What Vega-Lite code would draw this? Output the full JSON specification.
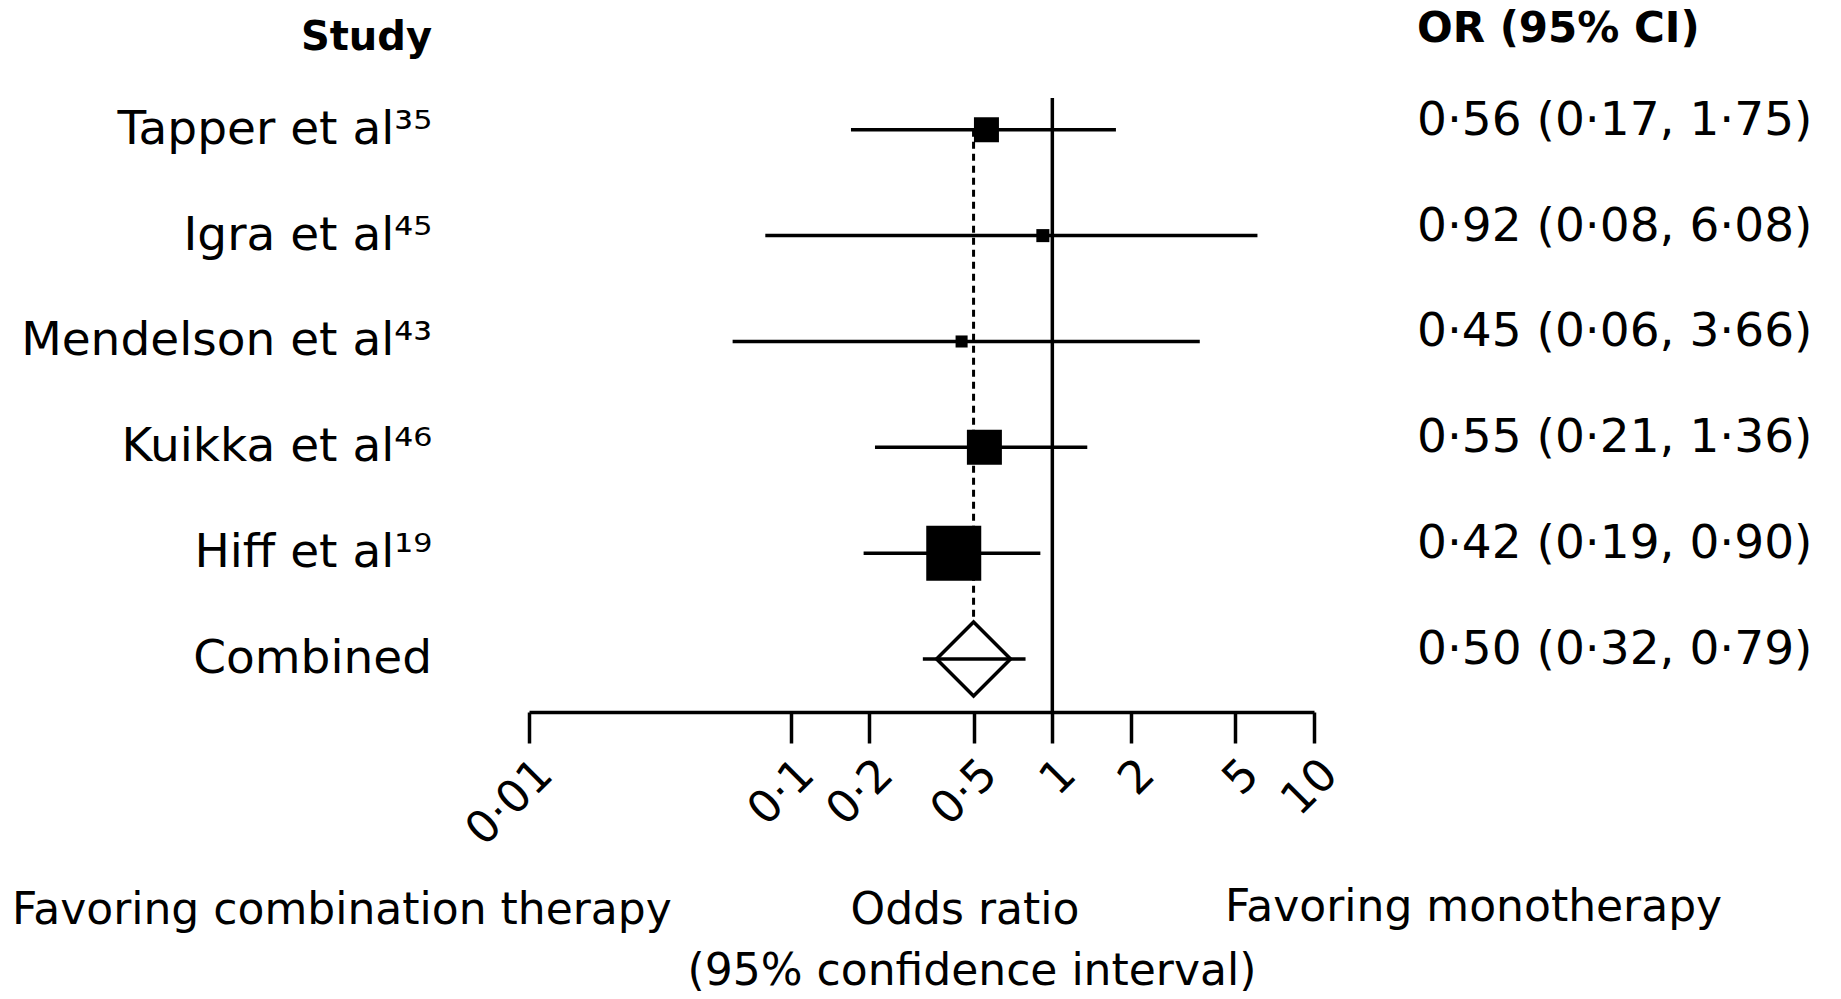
{
  "$schema": "https://vega.github.io/schema/vega-lite/v6.json",
  "autosize": "none",
  "width": 785,
  "height": 614,
  "padding": {"left": 529, "top": 98, "right": 527, "bottom": 287},
  "background": "white",
  "config": {"view": {"stroke": null}},
  "data": {
    "values": [
      {"study": "Tapper et al³⁵", "row": 1, "or": 0.56, "lo": 0.17, "hi": 1.75, "w": 12.5, "ci": "0·56 (0·17, 1·75)", "kind": "study"},
      {"study": "Igra et al⁴⁵", "row": 2, "or": 0.92, "lo": 0.08, "hi": 6.08, "w": 3.4, "ci": "0·92 (0·08, 6·08)", "kind": "study"},
      {"study": "Mendelson et al⁴³", "row": 3, "or": 0.45, "lo": 0.06, "hi": 3.66, "w": 2.9, "ci": "0·45 (0·06, 3·66)", "kind": "study"},
      {"study": "Kuikka et al⁴⁶", "row": 4, "or": 0.55, "lo": 0.21, "hi": 1.36, "w": 24.5, "ci": "0·55 (0·21, 1·36)", "kind": "study"},
      {"study": "Hiff et al¹⁹", "row": 5, "or": 0.42, "lo": 0.19, "hi": 0.90, "w": 60.5, "ci": "0·42 (0·19, 0·90)", "kind": "study"},
      {"study": "Combined", "row": 6, "or": 0.50, "lo": 0.32, "hi": 0.79, "w": null, "ci": "0·50 (0·32, 0·79)", "kind": "pooled"}
    ]
  },
  "layer": [
    {
      "data": {"values": [{"ref": 1}]},
      "mark": {"type": "rule", "color": "black", "strokeWidth": 3.5},
      "encoding": {
        "x": {"field": "ref", "type": "quantitative", "title": null,
          "scale": {"type": "log", "domain": [0.01, 10], "nice": false},
          "axis": {
            "values": [0.01, 0.1, 0.2, 0.5, 1, 2, 5, 10],
            "labelExpr": "replace(toString(datum.value), '.', '·')",
            "domainColor": "black", "domainWidth": 3.5,
            "tickColor": "black", "tickWidth": 3.5, "tickSize": 31,
            "grid": false, "labelAngle": -45, "labelFont": "DejaVu Sans",
            "labelFontSize": 45, "labelColor": "black", "labelPadding": 8,
            "labelOverlap": false, "labelFlush": false, "labelBound": false
          }
        }
      }
    },
    {
      "data": {"values": [{"pooled": 0.5, "from": 1, "to": 6}]},
      "mark": {"type": "rule", "color": "black", "strokeWidth": 3, "strokeDash": [7, 5]},
      "encoding": {
        "x": {"field": "pooled", "type": "quantitative", "title": null},
        "y": {"field": "from", "type": "quantitative", "axis": null,
          "scale": {"domain": [0.7, 6.5], "reverse": true, "nice": false, "zero": false}},
        "y2": {"field": "to"}
      }
    },
    {
      "transform": [{"filter": "datum.kind === 'pooled'"}],
      "mark": {"type": "point", "shape": "diamond", "size": 5476, "filled": true, "fill": "white", "stroke": "black", "strokeWidth": 3.5, "opacity": 1},
      "encoding": {
        "x": {"field": "or", "type": "quantitative", "title": null},
        "y": {"field": "row", "type": "quantitative", "axis": null}
      }
    },
    {
      "mark": {"type": "rule", "color": "black", "strokeWidth": 3.5},
      "encoding": {
        "x": {"field": "lo", "type": "quantitative", "title": null},
        "x2": {"field": "hi"},
        "y": {"field": "row", "type": "quantitative", "axis": null}
      }
    },
    {
      "transform": [{"filter": "datum.kind === 'study'"}],
      "mark": {"type": "square", "color": "black", "opacity": 1},
      "encoding": {
        "x": {"field": "or", "type": "quantitative", "title": null},
        "y": {"field": "row", "type": "quantitative", "axis": null},
        "size": {"field": "w", "type": "quantitative", "legend": null,
          "scale": {"type": "linear", "domain": [0, 100], "range": [0, 5000], "zero": true}}
      }
    },
    {
      "mark": {"type": "text", "align": "right", "baseline": "middle", "font": "DejaVu Sans", "fontSize": 47, "color": "black", "clip": false},
      "encoding": {
        "x": {"datum": 0.00426},
        "y": {"field": "row", "type": "quantitative", "axis": null},
        "text": {"field": "study"}
      }
    },
    {
      "mark": {"type": "text", "align": "left", "baseline": "middle", "dy": -9, "font": "DejaVu Sans", "fontSize": 47, "color": "black", "clip": false},
      "encoding": {
        "x": {"datum": 24.75},
        "y": {"field": "row", "type": "quantitative", "axis": null},
        "text": {"field": "ci"}
      }
    },
    {
      "data": {"values": [{"label": "Study"}]},
      "mark": {"type": "text", "align": "right", "baseline": "middle", "font": "DejaVu Sans", "fontWeight": "bold", "fontSize": 40, "color": "black", "clip": false},
      "encoding": {
        "x": {"datum": 0.00426},
        "y": {"datum": 0.13},
        "text": {"field": "label"}
      }
    },
    {
      "data": {"values": [{"label": "OR (95% CI)"}]},
      "mark": {"type": "text", "align": "left", "baseline": "middle", "font": "DejaVu Sans", "fontWeight": "bold", "fontSize": 42, "color": "black", "clip": false},
      "encoding": {
        "x": {"datum": 24.75},
        "y": {"datum": 0.05},
        "text": {"field": "label"}
      }
    },
    {
      "data": {"values": [{"label": "Favoring combination therapy"}]},
      "mark": {"type": "text", "align": "left", "baseline": "middle", "font": "DejaVu Sans", "fontSize": 44, "color": "black", "clip": false},
      "encoding": {
        "x": {"datum": 0.0001057},
        "y": {"datum": 8.38},
        "text": {"field": "label"}
      }
    },
    {
      "data": {"values": [{"label": "Favoring monotherapy"}]},
      "mark": {"type": "text", "align": "left", "baseline": "middle", "font": "DejaVu Sans", "fontSize": 44, "color": "black", "clip": false},
      "encoding": {
        "x": {"datum": 4.57},
        "y": {"datum": 8.35},
        "text": {"field": "label"}
      }
    },
    {
      "data": {"values": [{"label": "Odds ratio"}]},
      "mark": {"type": "text", "align": "center", "baseline": "middle", "font": "DejaVu Sans", "fontSize": 44, "color": "black", "clip": false},
      "encoding": {
        "x": {"datum": 0.4636},
        "y": {"datum": 8.38},
        "text": {"field": "label"}
      }
    },
    {
      "data": {"values": [{"label": "(95% confidence interval)"}]},
      "mark": {"type": "text", "align": "center", "baseline": "middle", "font": "DejaVu Sans", "fontSize": 44, "color": "black", "clip": false},
      "encoding": {
        "x": {"datum": 0.493},
        "y": {"datum": 8.96},
        "text": {"field": "label"}
      }
    }
  ]
}
